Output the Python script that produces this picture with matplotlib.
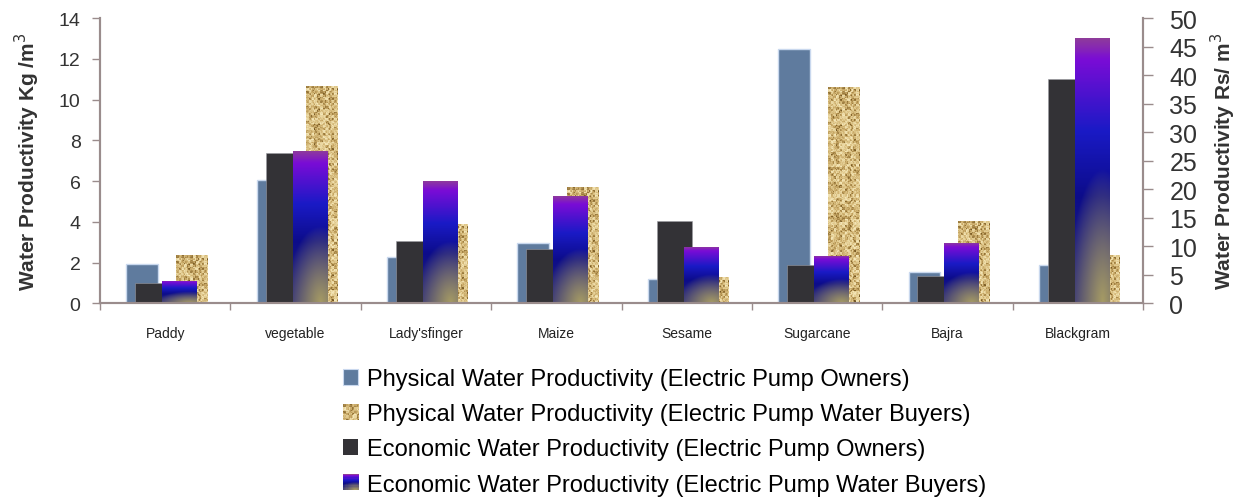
import numpy as np
import matplotlib
matplotlib.use('Agg')
from matplotlib import pyplot as plt
from matplotlib.colors import LinearSegmentedColormap, to_rgb
from matplotlib.patches import Patch
from matplotlib.legend_handler import HandlerBase
from matplotlib.image import BboxImage
from matplotlib.transforms import Bbox, TransformedBbox

crops = ['Paddy', 'vegetable', "Lady'sfinger", 'Maize', 'Sesame', 'Sugarcane', 'Bajra', 'Blackgram']

# Physical water productivity, Kg / m3 (left axis)
phys_owners = [1.93, 6.07, 2.29, 2.94, 1.19, 12.46, 1.52, 1.89]
phys_buyers = [2.35, 10.65, 3.89, 5.69, 1.27, 10.61, 4.04, 2.37]

# Economic water productivity, Rs / m3 (right axis)
econ_owners = [3.6, 26.4, 10.9, 9.6, 14.4, 6.8, 4.7, 39.3]
econ_buyers = [3.9, 26.7, 21.4, 18.8, 9.9, 8.3, 10.6, 46.5]

labels = ['Physical Water Productivity (Electric Pump Owners)',
          'Physical Water Productivity (Electric Pump Water Buyers)',
          'Economic Water Productivity (Electric Pump Owners)',
          'Economic Water Productivity (Electric Pump Water Buyers)']

plt.rcParams['font.family'] = ['Liberation Sans', 'DejaVu Sans']

BLUE = '#5f7b9e'
BLACK = '#333236'
AXIS = '#9a8c8c'


def hash_noise(i, j, seed=0.0):
    v = np.sin(i * 12.9898 + j * 78.233 + seed) * 43758.5453
    return v - np.floor(v)


def burlap(rows, cols):
    # woven sack texture, built from a fixed hash so it is the same every run
    i, j = np.mgrid[0:rows, 0:cols]
    horiz = (i % 5) < 3
    vert = (j % 5) < 3
    thread = np.where(horiz ^ vert, 0.25, 0.0) + np.where(horiz & vert, 0.12, 0.0)
    n1 = hash_noise(i // 3, j // 3)
    n2 = hash_noise(i, j, 3.1)
    v = 0.5 * n1 + 0.2 * n2 + thread + 0.12
    cmap = LinearSegmentedColormap.from_list(
        'sack', ['#4e3810', '#8a6a30', '#c6a664', '#e2cb90', '#f4e6b8'])
    return cmap(np.clip(v, 0, 1))[..., :3]


def purple_fade(rows=120, cols=40):
    t = np.linspace(0, 1, rows)[:, None] * np.ones((1, cols))
    s = np.linspace(0, 1, cols)[None, :] * np.ones((rows, 1))
    stops = [(0.0, '#8f3c9a'), (0.08, '#7a0cd6'), (0.35, '#1a1ac6'),
             (0.6, '#0c0c8a'), (1.0, '#2a2a78')]
    cmap = LinearSegmentedColormap.from_list('pf', stops)
    img = cmap(t)[..., :3]
    # warm glow rising from the lower right corner
    d = np.sqrt(((s - 0.8) / 1.0) ** 2 + ((t - 1.0) / 0.5) ** 2)
    w = np.clip(1 - d, 0, 1) ** 0.85 * 0.9
    glow = np.array(to_rgb('#b4a862'))
    return img * (1 - w[..., None]) + glow * w[..., None]


class HandlerImage(HandlerBase):
    def __init__(self, data):
        super().__init__()
        self.data = data

    def create_artists(self, legend, orig_handle, xdescent, ydescent,
                       width, height, fontsize, trans):
        bb = Bbox.from_bounds(-xdescent, -ydescent, width, height)
        img = BboxImage(TransformedBbox(bb, trans), interpolation='nearest')
        img.set_data(self.data)
        return [img]


x = np.arange(len(crops))
w_phys = 0.245
w_econ = 0.268

fig = plt.figure(figsize=(12.47, 5.02), dpi=100)
ax = fig.add_axes([0.0802, 0.3938, 0.8364, 0.5683])
ax2 = ax.twinx()

tex = burlap(320, 34)
grad = purple_fade()

ax.bar(x - 0.176, phys_owners, width=w_phys, color=BLUE,
       edgecolor='#c9d8ee', linewidth=1.0, zorder=1)
tex_bars = ax.bar(x + 0.203, phys_buyers, width=w_phys, color='none',
                  linewidth=0, zorder=1)
for b in tex_bars:
    h = b.get_height()
    n = max(int(h * 20.4), 2)
    im = ax.imshow(tex[:n], extent=[b.get_x(), b.get_x() + b.get_width(), 0, h],
                   aspect='auto', interpolation='nearest', zorder=2)
    im.set_clip_path(b)

ax2.bar(x - 0.096, econ_owners, width=w_econ, color=BLACK,
        edgecolor='#9a9aa0', linewidth=0.4, zorder=1)
grad_bars = ax2.bar(x + 0.111, econ_buyers, width=w_econ, color='none',
                    linewidth=0, zorder=1)
for b in grad_bars:
    h = b.get_height()
    im = ax2.imshow(grad, extent=[b.get_x(), b.get_x() + b.get_width(), 0, h],
                    aspect='auto', interpolation='bilinear', zorder=2)
    im.set_clip_path(b)

ax.set_xlim(-0.5, len(crops) - 0.5)
ax.set_ylim(0, 14)
ax2.set_ylim(0, 50)
ax.set_yticks(np.arange(0, 15, 2))
ax2.set_yticks(np.arange(0, 51, 5))

# category boundaries get the tick marks, names sit in between
ax.set_xticks(np.arange(-0.5, len(crops)), labels=[''] * (len(crops) + 1))
ax.set_xticks(x, labels=crops, minor=True)
ax.tick_params(axis='x', which='major', length=5, color=AXIS, width=1)
ax.tick_params(axis='x', which='minor', length=0, pad=16, labelsize=10,
               labelcolor='#222222')

for a in (ax, ax2):
    a.spines['top'].set_visible(False)
    for side in ('left', 'right', 'bottom'):
        a.spines[side].set_color(AXIS)
        a.spines[side].set_linewidth(1.5)
ax2.patch.set_visible(False)

ax.tick_params(axis='y', length=6, width=1, color=AXIS, pad=8,
               labelsize=14, labelcolor='#333333')
ax2.tick_params(axis='y', length=7, width=1, color=AXIS, pad=12,
                labelsize=18, labelcolor='#333333')

ax.set_ylabel('Water Productivity Kg /m$^3$', fontsize=15, fontweight='bold',
              color='#333333', labelpad=12)
ax2.set_ylabel('Water Productivity Rs/ m$^3$', fontsize=15, fontweight='bold',
               color='#333333', labelpad=8)

h_tex = Patch()
h_grad = Patch()
handles = [Patch(facecolor=BLUE, edgecolor='#c9d8ee', linewidth=0.8),
           h_tex,
           Patch(facecolor=BLACK),
           h_grad]
fig.legend(handles, labels, loc='upper left',
           bbox_to_anchor=(343 / 1247, 1 - 369 / 502),
           frameon=False, fontsize=17, labelspacing=0.56,
           handlelength=0.65, handleheight=0.65, handletextpad=0.35,
           borderpad=0, borderaxespad=0,
           handler_map={h_tex: HandlerImage(burlap(14, 14)),
                        h_grad: HandlerImage(purple_fade(14, 14))})

fig.savefig('out.png', dpi=100)
